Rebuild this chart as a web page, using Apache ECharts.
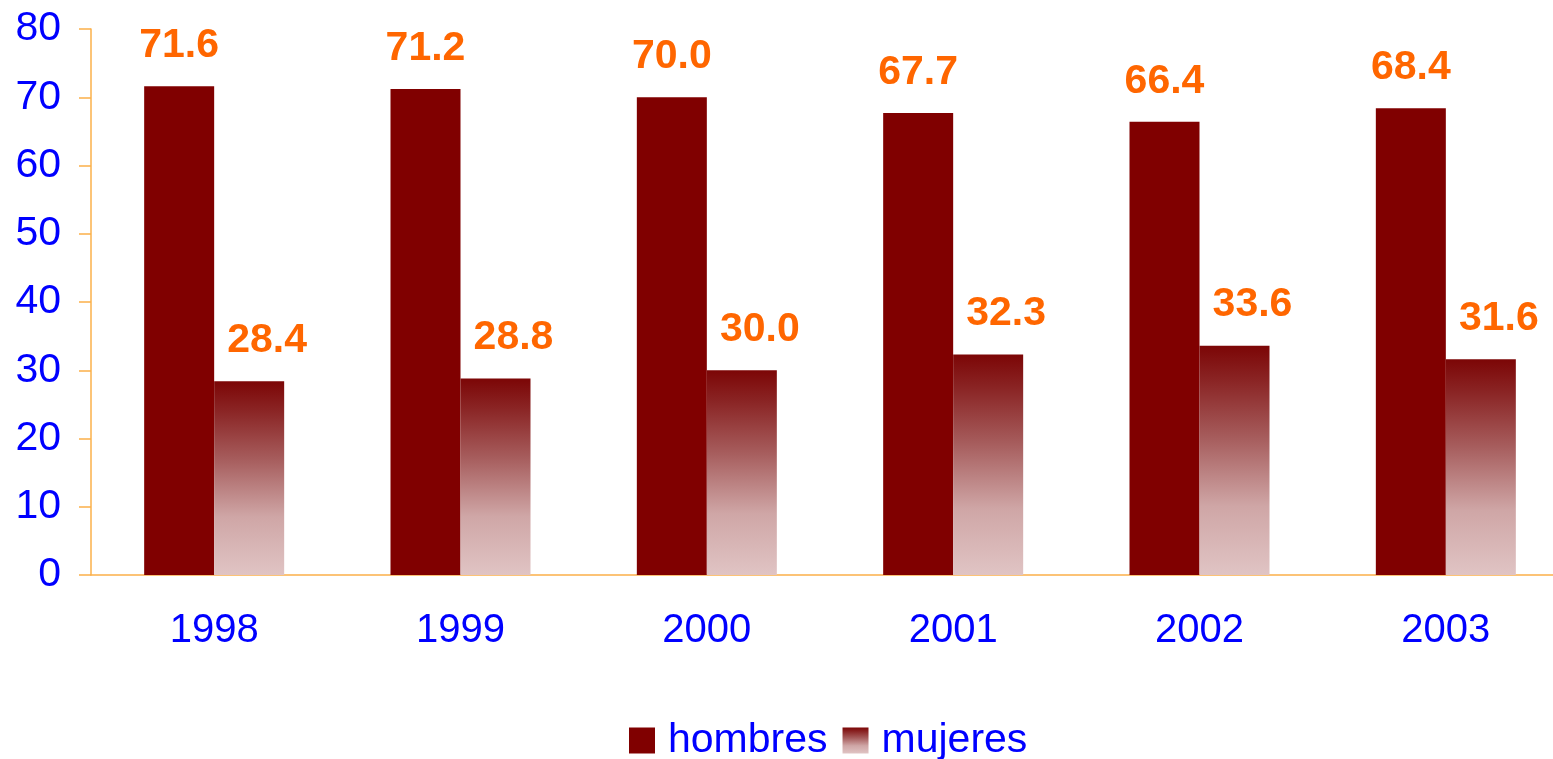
<!DOCTYPE html>
<html lang="es">
<head>
    <meta charset="UTF-8">
    <title>hombres / mujeres 1998-2003</title>
    <script src="https://cdn.jsdelivr.net/npm/echarts@6/dist/echarts.min.js"></script>
    <style>
        html, body { margin: 0; padding: 0; background: #fff; }
        #chart { width: 1553px; height: 759px; }
    </style>
</head>
<body>
<div id="chart"></div>
<script type="text/javascript">
    // datos
    let years = ['1998', '1999', '2000', '2001', '2002', '2003'];
    let hombres = [71.6, 71.2, 70.0, 67.7, 66.4, 68.4];
    let mujeres = [28.4, 28.8, 30.0, 32.3, 33.6, 31.6];

    let axisColor = '#FBB04A';
    let font = 'Liberation Sans, Arial, sans-serif';

    let labelStyle = {
        show: true,
        position: 'top',
        distance: 20,
        color: '#FF6600',
        fontFamily: font,
        fontWeight: 'bold',
        fontSize: 41,
        formatter: function (p) {
            return p.value.toFixed(1);
        }
    };

    let myChart = echarts.init(document.getElementById('chart'));

    let option = {
        animation: false,
        grid: {
            left: 91,
            right: -16,
            top: 29,
            bottom: 184,
            outerBoundsMode: 'none',
            containLabel: false
        },
        legend: {
            left: 624,
            top: 715,
            itemWidth: 26,
            itemHeight: 26,
            itemGap: 15,
            icon: 'rect',
            textStyle: {
                color: '#0000FF',
                fontFamily: font,
                fontSize: 41,
                padding: [0, 0, 0, 8]
            },
            data: ['hombres', 'mujeres']
        },
        xAxis: {
            type: 'category',
            data: years,
            axisLine: { lineStyle: { color: axisColor, width: 1.5 } },
            axisTick: { length: 12, lineStyle: { color: axisColor, width: 1.5 } },
            axisLabel: {
                color: '#0000FF',
                fontFamily: font,
                fontSize: 40,
                margin: 36
            }
        },
        yAxis: {
            type: 'value',
            min: 0,
            max: 80,
            interval: 10,
            splitLine: { show: false },
            axisLine: { show: true, lineStyle: { color: axisColor, width: 1.5 } },
            axisTick: { show: true, length: 12, lineStyle: { color: axisColor, width: 1.5 } },
            axisLabel: {
                color: '#0000FF',
                fontFamily: font,
                fontSize: 41,
                margin: 30
            }
        },
        series: [
            {
                name: 'hombres',
                type: 'bar',
                data: hombres,
                barWidth: 70,
                barGap: '0%',
                itemStyle: { color: '#800000' },
                label: labelStyle
            },
            {
                name: 'mujeres',
                type: 'bar',
                data: mujeres,
                barWidth: 70,
                itemStyle: {
                    color: new echarts.graphic.LinearGradient(0, 0, 0, 1, [
                        { offset: 0, color: '#7C0606' },
                        { offset: 0.15, color: '#8A2424' },
                        { offset: 0.4, color: '#A65C5C' },
                        { offset: 0.7, color: '#CFA6A6' },
                        { offset: 1, color: '#E0C4C4' }
                    ])
                },
                label: Object.assign({}, labelStyle, { offset: [18, 0] })
            }
        ]
    };
    myChart.setOption(option);
</script>
</body>
</html>
